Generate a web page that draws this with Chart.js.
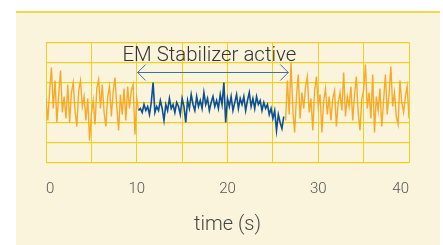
<!DOCTYPE html>
<html>
<head>
<meta charset="utf-8">
<script src="https://cdn.jsdelivr.net/npm/chart.js@4.4.0/dist/chart.umd.min.js"></script>
<style>
  html, body { margin: 0; padding: 0; background: #fff; }
</style>
</head>
<body>
<canvas id="chart" width="443" height="245"></canvas>
<script>
// sampling step (s) for all traces
const step = 0.2;

// before stabilizer (orange), t = 0 .. 10.2
const orangeStartA = 0;
const orangeA = [0.2, -0.9, 0.6, 1.75, -0.3, 1.1, -1.0, 0.4, 1.6, -0.5,
    0.3, -0.8, 0.9, -1.0, 0.5, 1.0, -0.4, -1.2, 0.6, 1.1,
    -0.2, 0.3, -0.9, 0.2, -1.9, -0.6, 0.1, -1.1, 0.7, 1.15,
    -0.3, 0.9, -0.5, -1.2, 0.3, 0.8, -0.7, 0.5, 1.25, -0.2,
    -1.4, 0.4, -0.6, 0.7, -0.9, 0.8, -0.3, 0.6, 0.9, -1.6,
    0.2, -0.4];

// stabilizer active (blue), t = 10.2 .. 26.2
const blueStart = 10.2;
const blue = [-0.4, -0.3, -0.5, -0.1, -0.4, -0.2, -0.6, 0.0, 1.0, -0.5,
    -0.2, -0.4, 0.1, -0.3, -0.9, -0.1, -0.4, 0.2, -0.3, -0.1,
    -0.5, 0.0, -0.2, -0.6, 0.2, -0.2, -1.0, 0.1, -0.3, 0.4,
    -0.1, -0.4, 0.3, -0.2, 0.1, -0.3, 0.5, -0.1, 0.2, -0.4,
    0.0, 0.3, -0.2, 0.1, -0.3, 0.4, -0.1, 1.0, -1.0, 0.2,
    -0.2, 0.3, -0.4, 0.0, 0.4, -0.3, 0.2, -0.1, 0.3, -0.4,
    0.1, 0.5, -0.2, 0.2, -0.3, 0.3, -0.1, 0.1, -0.4, 0.0,
    -0.3, -0.1, -0.6, -0.3, -0.8, -0.4, -1.4, -0.6, -1.0, -1.3,
    -0.7];

// after stabilizer (orange), t = 26.4 .. 40
const orangeStartB = 26.4;
const orangeB = [-0.9, 1.1, -0.6, 2.0, -0.4, -1.5, 0.3, 1.4, -0.8, 0.5,
    -0.3, 0.8, 1.3, -0.5, 0.2, -1.4, 0.6, 1.3, -0.2, 0.4,
    -1.5, 0.1, 0.7, -0.6, 0.3, -0.9, 0.2, 0.6, -1.2, 0.0,
    0.5, -0.4, 1.5, -0.7, 0.3, -0.2, 0.8, -0.9, 0.4, 1.3,
    -0.5, -1.4, 0.2, 0.6, 1.9, -0.3, 0.5, -0.8, 1.4, -1.5,
    0.3, -0.4, 0.7, -1.2, 0.1, 1.4, -0.6, 0.4, 1.8, -0.2,
    0.5, -0.7, -1.1, 1.1, 0.0, -0.5, 0.3, 0.8, -0.8];

const xTickLabels = [0, 10, 20, 30, 40];
const xTitle = 'time (s)';
const bandText = 'EM Stabilizer active';
const bandFrom = 10.1;
const bandTo = 26.7;
const bandLevel = 1.55;
const bandTextAt = [18.0, 2.1];

const toPoints = (start, vals) => vals.map((v, i) => ({ x: +(start + i * step).toFixed(2), y: v }));

const gridColor = '#f0cf24';
const font = 'Roboto, "Liberation Sans", Arial, sans-serif';

const panel = {
    id: 'panel',
    beforeDraw(chart) {
        const ctx = chart.ctx;
        ctx.save();
        ctx.fillStyle = '#ffffff';
        ctx.fillRect(0, 0, chart.width, chart.height);
        ctx.fillStyle = '#faf4dd';
        ctx.fillRect(16, 11, 424, chart.height - 11);
        ctx.strokeStyle = '#f2d64b';
        ctx.lineWidth = 2;
        ctx.beginPath();
        ctx.moveTo(16, 12);
        ctx.lineTo(440, 12);
        ctx.stroke();
        ctx.restore();
    }
};

const bandNote = {
    id: 'bandNote',
    afterDatasetsDraw(chart) {
        const { ctx, scales: { x, y } } = chart;
        const x1 = x.getPixelForValue(bandFrom);
        const x2 = x.getPixelForValue(bandTo);
        const yy = Math.round(y.getPixelForValue(bandLevel)) + 0.5;
        ctx.save();
        ctx.strokeStyle = '#3e6f9f';
        ctx.lineWidth = 1;
        ctx.beginPath();
        ctx.moveTo(x1, yy);
        ctx.lineTo(x2, yy);
        ctx.moveTo(x1 + 8, yy - 8);
        ctx.lineTo(x1, yy);
        ctx.lineTo(x1 + 8, yy + 8);
        ctx.moveTo(x2 - 8, yy - 8);
        ctx.lineTo(x2, yy);
        ctx.lineTo(x2 - 8, yy + 8);
        ctx.stroke();

        ctx.fillStyle = '#333';
        ctx.font = '300 20.4px ' + font;
        ctx.textAlign = 'center';
        ctx.textBaseline = 'alphabetic';
        ctx.fillText(bandText, x.getPixelForValue(bandTextAt[0]), y.getPixelForValue(bandTextAt[1]));
        ctx.restore();
    }
};

new Chart(document.getElementById('chart'), {
    type: 'line',
    data: {
        datasets: [{
            data: toPoints(blueStart, blue),
            borderColor: '#0b4f95',
            borderWidth: 1.6,
            pointRadius: 0,
            tension: 0
        }, {
            data: toPoints(orangeStartA, orangeA),
            borderColor: '#f7a92a',
            borderWidth: 1.4,
            pointRadius: 0,
            tension: 0
        }, {
            data: toPoints(orangeStartB, orangeB),
            borderColor: '#f7a92a',
            borderWidth: 1.4,
            pointRadius: 0,
            tension: 0
        }]
    },
    options: {
        responsive: false,
        animation: false,
        devicePixelRatio: 1,
        layout: { padding: { top: 42.5, right: 34, left: 0, bottom: 0 } },
        plugins: {
            legend: { display: false },
            tooltip: { enabled: false }
        },
        scales: {
            x: {
                type: 'linear',
                min: 0,
                max: 40,
                afterFit: s => { s.height = 82.5; },
                grid: { color: gridColor, drawTicks: false },
                border: { color: gridColor },
                ticks: {
                    stepSize: 5,
                    align: 'inner',
                    maxRotation: 0,
                    autoSkip: false,
                    padding: 18,
                    color: '#555',
                    font: { family: font, size: 15, weight: '300' },
                    callback: v => xTickLabels.includes(v) ? String(v) : ''
                },
                title: {
                    display: true,
                    text: xTitle,
                    color: '#444',
                    font: { family: font, size: 20, weight: '300' },
                    padding: { top: 8, bottom: 8 }
                }
            },
            y: {
                min: -3,
                max: 3,
                afterFit: s => { s.width = 46; },
                grid: { color: gridColor, drawTicks: false, lineWidth: 1.3 },
                border: { color: gridColor },
                ticks: { stepSize: 1, display: false }
            }
        }
    },
    plugins: [panel, bandNote]
});
</script>
</body>
</html>
